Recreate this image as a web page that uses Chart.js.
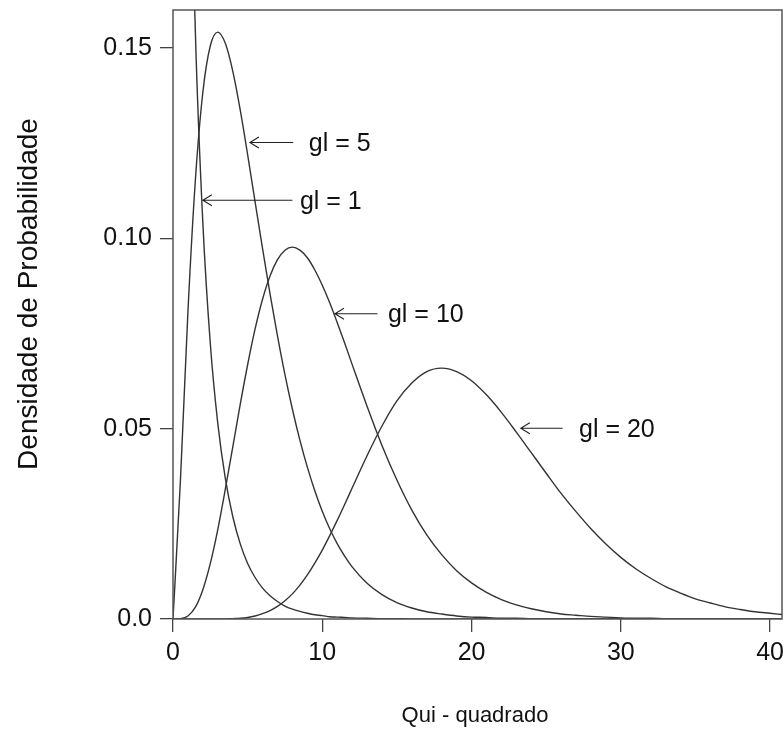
<!DOCTYPE html>
<html>
<head>
<meta charset="utf-8">
<script src="https://cdn.jsdelivr.net/npm/chart.js@4.4.1/dist/chart.umd.min.js"></script>
<style>
  html, body { margin: 0; padding: 0; background: #fff; }
  #wrap { width: 783px; height: 736px; }
</style>
</head>
<body>
<div id="wrap"><canvas id="myChart" width="783" height="736"></canvas></div>
<script>
// Qui-quadrado: x values and densities
const xValues = [0, 0.5, 1, 1.5, 2, 2.5, 3, 3.5, 4, 4.5, 5, 5.5, 6, 6.5, 7, 7.5, 8, 8.5, 9, 9.5, 10, 10.5, 11, 11.5, 12,
  13, 14, 15, 16, 17, 18, 19, 20, 21, 22, 23, 24, 25, 26, 27, 28, 29, 30, 31, 32, 33, 34, 35, 36, 37, 38, 39, 40, 41];

const gl1 = [null, 0.439, 0.242, 0.154, 0.104, 0.0723, 0.0514, 0.0371, 0.027, 0.0198, 0.0146, 0.0109, 0.0081, 0.0061, 0.0046, 0.0034, 0.0026, 0.002, 0.0015, 0.0011, 0.0009, 0.0006, 0.0005, 0.0004, 0.0003,
  0.0002, 0.0001, 0.0001, 0, 0, 0, 0, 0, 0, 0, 0, 0, 0, 0, 0, 0, 0, 0, 0, 0, 0, 0, 0, 0, 0, 0, 0, 0, 0];

const gl5 = [0, 0.0366, 0.0807, 0.1154, 0.1384, 0.1506, 0.1542, 0.1513, 0.144, 0.1338, 0.122, 0.1096, 0.0973, 0.0854, 0.0744, 0.0642, 0.0551, 0.047, 0.0399, 0.0337, 0.0283, 0.0237, 0.0198, 0.0165, 0.0137,
  0.0094, 0.0064, 0.0043, 0.0029, 0.0019, 0.0013, 0.0008, 0.0005, 0.0004, 0.0002, 0.0002, 0.0001, 0.0001, 0.0001, 0, 0, 0, 0, 0, 0, 0, 0, 0, 0, 0, 0, 0, 0, 0];

const gl10 = [0, 0.0001, 0.0008, 0.0031, 0.0077, 0.0146, 0.0235, 0.034, 0.0451, 0.0563, 0.0668, 0.0762, 0.084, 0.0901, 0.0944, 0.0969, 0.0977, 0.0969, 0.0949, 0.0917, 0.0877, 0.0831, 0.0779, 0.0725, 0.0669,
  0.0559, 0.0456, 0.0365, 0.0286, 0.0221, 0.0169, 0.0127, 0.0095, 0.007, 0.0051, 0.0037, 0.0027, 0.0019, 0.0013, 0.001, 0.0007, 0.0005, 0.0003, 0.0002, 0.0002, 0.0001, 0.0001, 0.0001, 0, 0, 0, 0, 0, 0];

const gl20 = [0, 0, 0, 0, 0, 0, 0, 0, 0.0001, 0.0002, 0.0004, 0.0008, 0.0014, 0.0022, 0.0033, 0.0048, 0.0066, 0.0089, 0.0116, 0.0147, 0.0181, 0.0219, 0.0259, 0.0301, 0.0344,
  0.0429, 0.0507, 0.0573, 0.062, 0.065, 0.0659, 0.065, 0.0626, 0.0589, 0.0543, 0.0491, 0.0437, 0.0383, 0.033, 0.0282, 0.0237, 0.0197, 0.0162, 0.0132, 0.0107, 0.0085, 0.0068, 0.0053, 0.0042, 0.0032, 0.0025, 0.0019, 0.0015, 0.0011];

const xTicks = [0, 10, 20, 30, 40];
const yTicks = [0, 0.05, 0.10, 0.15];
const yTickLabels = ['0.0', '0.05', '0.10', '0.15'];

// arrow labels, in data units: tip of the arrow, tail, and where the text starts
const notes = [
  { text: 'gl = 1',  tipX: 2.0,   tipY: 0.110,  tailX: 8.0,  textX: 8.5 },
  { text: 'gl = 5',  tipX: 5.15,  tipY: 0.1252, tailX: 8.05, textX: 9.1 },
  { text: 'gl = 10', tipX: 10.85, tipY: 0.0802, tailX: 13.7, textX: 14.4 },
  { text: 'gl = 20', tipX: 23.3,  tipY: 0.0501, tailX: 26.1, textX: 27.2 }
];

const FONT = '"Liberation Sans", Arial, sans-serif';
const ink = '#111';
const curveColor = '#333';

function toPoints(ys) {
  return xValues.map((x, i) => ({ x: x, y: ys[i] }));
}

const boxAndText = {
  id: 'boxAndText',
  afterDraw(chart) {
    const ctx = chart.ctx;
    const a = chart.chartArea;
    const xs = chart.scales.x;
    const ys = chart.scales.y;
    ctx.save();
    // frame round the plot
    ctx.strokeStyle = '#555';
    ctx.lineWidth = 1.5;
    ctx.strokeRect(a.left, a.top, a.right - a.left, a.bottom - a.top);

    // arrows and their labels
    ctx.strokeStyle = '#222';
    ctx.lineWidth = 1.1;
    ctx.fillStyle = ink;
    ctx.font = '25px ' + FONT;
    ctx.textAlign = 'left';
    ctx.textBaseline = 'alphabetic';
    notes.forEach(n => {
      const tx = xs.getPixelForValue(n.tipX);
      const ty = ys.getPixelForValue(n.tipY);
      const ex = xs.getPixelForValue(n.tailX);
      ctx.beginPath();
      ctx.moveTo(ex, ty);
      ctx.lineTo(tx, ty);
      ctx.moveTo(tx + 9, ty - 5.5);
      ctx.lineTo(tx, ty);
      ctx.lineTo(tx + 9, ty + 5.5);
      ctx.stroke();
      ctx.fillText(n.text, xs.getPixelForValue(n.textX), ty + 8.5);
    });

    // axis titles
    ctx.font = '22px ' + FONT;
    ctx.textAlign = 'center';
    ctx.fillText('Qui - quadrado', 475, 722);
    ctx.translate(37, 294);
    ctx.rotate(-Math.PI / 2);
    ctx.font = '28px ' + FONT;
    ctx.fillText('Densidade de Probabilidade', 0, 0);
    ctx.restore();
  }
};

const curveStyle = {
  borderColor: curveColor,
  borderWidth: 1.4,
  pointRadius: 0,
  fill: false,
  cubicInterpolationMode: 'monotone'
};

const ctx = document.getElementById('myChart').getContext('2d');
const myChart = new Chart(ctx, {
  type: 'line',
  data: {
    datasets: [
      Object.assign({ label: 'gl = 1', data: toPoints(gl1) }, curveStyle),
      Object.assign({ label: 'gl = 5', data: toPoints(gl5) }, curveStyle),
      Object.assign({ label: 'gl = 10', data: toPoints(gl10) }, curveStyle),
      Object.assign({ label: 'gl = 20', data: toPoints(gl20) }, curveStyle)
    ]
  },
  options: {
    responsive: false,
    animation: false,
    layout: { padding: { top: 10, right: 1, bottom: 0, left: 0 } },
    plugins: { legend: { display: false }, tooltip: { enabled: false } },
    scales: {
      x: {
        type: 'linear',
        min: 0,
        max: 40.8,
        afterBuildTicks: s => { s.ticks = xTicks.map(v => ({ value: v })); },
        afterFit: s => { s.height = 117; s.paddingLeft = 0; s.paddingRight = 0; },
        grid: { drawOnChartArea: false, drawTicks: true, tickLength: 13, color: '#444', lineWidth: 1.3 },
        border: { display: false },
        ticks: {
          autoSkip: false,
          maxRotation: 0,
          padding: 6,
          color: ink,
          font: { family: FONT, size: 25 },
          callback: v => String(v)
        }
      },
      y: {
        min: 0,
        max: 0.16,
        afterBuildTicks: s => { s.ticks = yTicks.map(v => ({ value: v })); },
        afterFit: s => { s.width = 173; s.paddingTop = 0; s.paddingBottom = 0; },
        grid: { drawOnChartArea: false, drawTicks: true, tickLength: 13, color: '#444', lineWidth: 1.3 },
        border: { display: false },
        ticks: {
          autoSkip: false,
          padding: 8,
          color: ink,
          font: { family: FONT, size: 25 },
          callback: (v, i) => yTickLabels[i]
        }
      }
    }
  },
  plugins: [boxAndText]
});
</script>
</body>
</html>
